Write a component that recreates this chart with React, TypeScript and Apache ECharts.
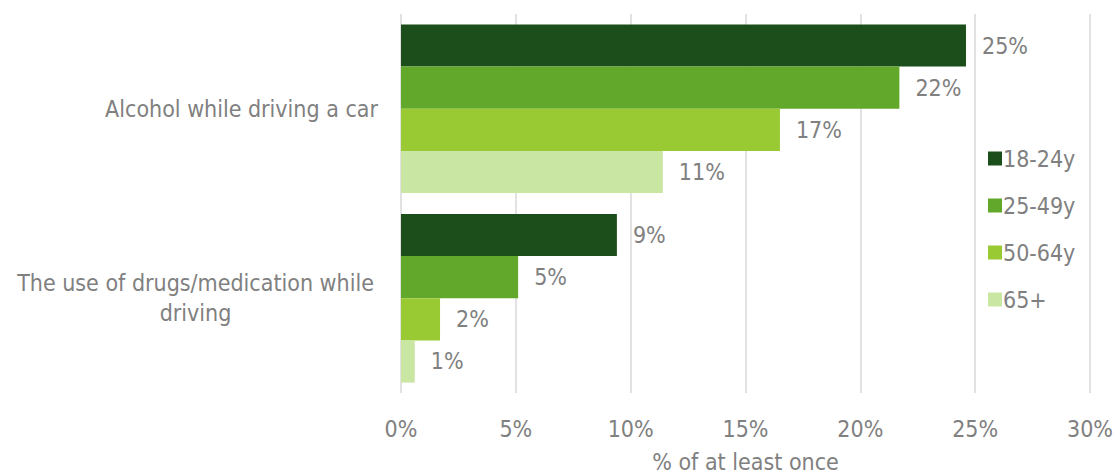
import React, { useEffect, useRef } from "react";
import * as echarts from "echarts";

const categories = ["Alcohol while driving a car", "The use of drugs/medication while\ndriving"];
const seriesNames = ["18-24y", "25-49y", "50-64y", "65+"];
const values18_24 = [24.6, 9.4];
const values25_49 = [21.7, 5.1];
const values50_64 = [16.5, 1.7];
const values65 = [11.4, 0.6];
const colors = ["#1b4e1b", "#62a82a", "#99c933", "#c9e6a3"];
const axisTicks = [0, 5, 10, 15, 20, 25, 30];

const FONT = "'DejaVu Sans Condensed', 'DejaVu Sans', sans-serif";
const GRAY = "#808080";
const FS = 23;

export default function App() {
  const ref = useRef<HTMLDivElement>(null);
  useEffect(() => {
    if (!ref.current) return;
    const chart = echarts.init(ref.current, null, { renderer: "svg" });
    const data = [values18_24, values25_49, values50_64, values65];
    chart.setOption({
      animation: false,
      textStyle: { fontFamily: FONT },
      grid: { left: 401, right: 30, top: 14, bottom: 80, containLabel: false, outerBoundsMode: "none" },
      legend: {
        orient: "vertical",
        left: 983,
        top: 142,
        itemWidth: 14,
        itemHeight: 14,
        itemGap: 24,
        icon: "rect",
        textStyle: { color: GRAY, fontSize: FS, fontFamily: FONT, padding: [0, 0, 0, -4] },
        data: seriesNames,
      },
      xAxis: {
        type: "value",
        min: axisTicks[0],
        max: axisTicks[axisTicks.length - 1],
        interval: 5,
        name: "% of at least once",
        nameLocation: "middle",
        nameGap: 57,
        nameTextStyle: { color: GRAY, fontSize: FS, fontFamily: FONT },
        axisLine: { show: false },
        axisTick: { show: false },
        splitLine: { show: true, lineStyle: { color: "#d9d9d9", width: 1.5 } },
        axisLabel: { color: GRAY, fontSize: FS, fontFamily: FONT, margin: 24, formatter: "{value}%" },
      },
      yAxis: {
        type: "category",
        inverse: true,
        data: categories,
        axisLine: { show: false },
        axisTick: { show: false },
        axisLabel: {
          color: GRAY,
          fontSize: FS,
          fontFamily: FONT,
          margin: 23,
          lineHeight: 30,
          formatter: (v: string) => (v.indexOf("\n") >= 0 ? "{c|" + v + "}" : v),
          rich: {
            c: { width: 365, align: "center", color: GRAY, fontSize: FS, fontFamily: FONT, lineHeight: 30 },
          },
        },
      },
      series: seriesNames.map((n, i) => ({
        name: n,
        type: "bar",
        data: data[i],
        barGap: "0%",
        barCategoryGap: "11%",
        itemStyle: { color: colors[i] },
        label: {
          show: true,
          position: "right",
          distance: 16,
          color: GRAY,
          fontSize: FS,
          fontFamily: FONT,
          formatter: (p: any) => Math.round(p.value) + "%",
        },
      })),
    });
    return () => chart.dispose();
  }, []);
  return <div ref={ref} style={{ width: 1120, height: 473, position: "absolute", left: 0, top: 0 }} />;
}
